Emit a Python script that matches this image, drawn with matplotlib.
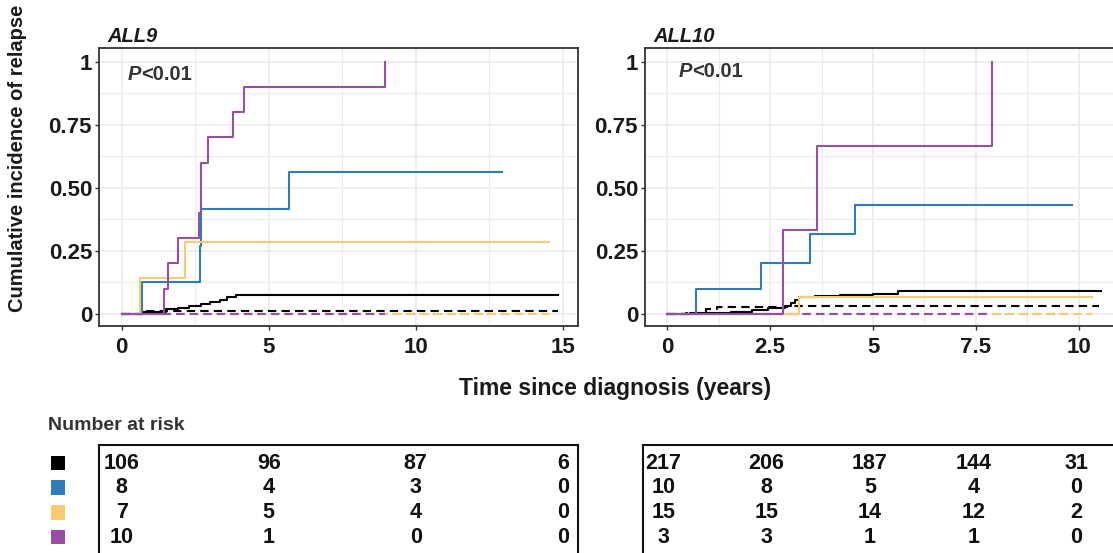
import matplotlib.pyplot as plt
from matplotlib.ticker import FixedLocator

plt.rcParams['font.family'] = ['Liberation Sans', 'DejaVu Sans']

W, H = 1113, 553

# colours per group: reference, blue, yellow, purple
group_colors = ['#000000', '#2E7DB9', '#F8CB73', '#984EA3']

# ---- ALL9 cumulative incidence (solid = relapse, dashed = competing event)
all9_t = [
    [0, 0.74, 1.5, 1.9, 2.3, 2.7, 3.0, 3.35, 3.6, 3.9, 14.85],
    [0, 0.69, 2.66, 2.71, 5.7, 12.95],
    [0, 0.63, 2.15, 14.54],
    [0, 1.43, 1.59, 1.91, 2.64, 2.71, 2.95, 3.8, 4.16, 8.94],
]
all9_v = [
    [0, 0.008, 0.02, 0.025, 0.03, 0.038, 0.046, 0.055, 0.066, 0.076, 0.076],
    [0, 0.125, 0.27, 0.417, 0.563, 0.563],
    [0, 0.143, 0.286, 0.286],
    [0, 0.1, 0.2, 0.3, 0.4, 0.6, 0.7, 0.8, 0.9, 1.0],
]
all9_dash_t = [[0, 0.74, 14.85], [0, 12.95], [0, 14.54], [0, 8.94]]
all9_dash_v = [[0, 0.0105, 0.0105], [0, 0], [0, 0], [0, 0]]

# ---- ALL10
all10_t = [
    [0, 0.55, 1.55, 2.05, 2.45, 2.85, 3.0, 3.1, 3.2, 3.6, 4.2, 5.0, 5.6, 10.54],
    [0, 0.71, 2.27, 3.46, 4.57, 9.83],
    [0, 3.19, 10.32],
    [0, 2.82, 3.63, 7.9],
]
all10_v = [
    [0, 0.004, 0.009, 0.014, 0.025, 0.032, 0.042, 0.055, 0.066, 0.07, 0.074, 0.078, 0.09, 0.09],
    [0, 0.1, 0.2, 0.315, 0.43, 0.43],
    [0, 0.067, 0.067],
    [0, 0.333, 0.667, 1.0],
]
all10_dash_t = [[0, 0.45, 0.95, 1.2, 2.9, 10.5], [0, 9.83], [0, 10.32], [0, 7.9]]
all10_dash_v = [[0, 0.005, 0.018, 0.028, 0.033, 0.033], [0, 0], [0, 0], [0, 0]]

# ---- numbers at risk
all9_risk_times = [0, 5, 10, 15]
all9_risk = [[106, 96, 87, 6], [8, 4, 3, 0], [7, 5, 4, 0], [10, 1, 0, 0]]
all10_risk_times = [0, 2.5, 5, 7.5, 10]
all10_risk = [[217, 206, 187, 144, 31], [10, 8, 5, 4, 0], [15, 15, 14, 12, 2], [3, 3, 1, 1, 0]]

fig = plt.figure(figsize=(W / 100, H / 100), dpi=100)

frame_col = '#333333'
txt_col = '#1a1a1a'


def px_axes(x0, x1, y0, y1):
    return fig.add_axes([x0 / W, 1 - y1 / H, (x1 - x0) / W, (y1 - y0) / H])


def style_panel(ax, xlim, xticks, xlabels, minor_x):
    ax.set_xlim(*xlim)
    ax.set_ylim(-0.048, 1.054)
    ax.set_xticks(xticks)
    ax.set_xticklabels(xlabels)
    ax.set_yticks([0, 0.25, 0.5, 0.75, 1])
    ax.set_yticklabels(['0', '0.25', '0.50', '0.75', '1'])
    ax.xaxis.set_minor_locator(FixedLocator(minor_x))
    ax.yaxis.set_minor_locator(FixedLocator([0.125, 0.375, 0.625, 0.875]))
    ax.grid(which='major', color='#EBEBEB', lw=1.2)
    ax.grid(which='minor', color='#EBEBEB', lw=0.8)
    ax.set_axisbelow(True)
    for s in ax.spines.values():
        s.set_color(frame_col)
        s.set_linewidth(1.3)
    ax.tick_params(which='major', length=3, width=1, color=frame_col,
                   labelsize=16, labelcolor=txt_col, pad=2)
    ax.tick_params(axis='x', pad=5)
    ax.tick_params(which='minor', length=0)
    for lab in ax.get_xticklabels() + ax.get_yticklabels():
        lab.set_fontweight('bold')


def draw_curves(ax, ts, vs, dts, dvs):
    for t, v, c in zip(dts, dvs, group_colors):
        ax.step(t, v, where='post', color=c, lw=1.5, ls=(0, (4, 2.5)))
    for t, v, c in zip(ts, vs, group_colors):
        ax.step(t, v, where='post', color=c, lw=1.5)


def p_label(ax, x, y):
    t = ax.text(x, y, 'P', transform=ax.transAxes, fontsize=14.5, fontweight='bold',
                fontstyle='italic', color='#333333', va='center', ha='left')
    ax.annotate('<0.01', xy=(1, 0), xycoords=t, fontsize=14.5, fontweight='bold',
                color='#333333', va='bottom', ha='left')


ax1 = px_axes(99, 578, 48, 326)
draw_curves(ax1, all9_t, all9_v, all9_dash_t, all9_dash_v)
style_panel(ax1, (-0.77, 15.52), [0, 5, 10, 15], ['0', '5', '10', '15'], [2.5, 7.5, 12.5])
ax1.text(0.018, 1.023, 'ALL9', transform=ax1.transAxes, fontsize=14.5, fontweight='bold',
         fontstyle='italic', color=txt_col, va='baseline', ha='left')
p_label(ax1, 0.06, 0.905)

ax2 = px_axes(645, 1134, 48, 326)
draw_curves(ax2, all10_t, all10_v, all10_dash_t, all10_dash_v)
style_panel(ax2, (-0.54, 11.34), [0, 2.5, 5, 7.5, 10], ['0', '2.5', '5', '7.5', '10'],
            [1.25, 3.75, 6.25, 8.75, 11.25])
ax2.text(0.018, 1.023, 'ALL10', transform=ax2.transAxes, fontsize=14.5, fontweight='bold',
         fontstyle='italic', color=txt_col, va='baseline', ha='left')
p_label(ax2, 0.069, 0.915)

fig.text(18 / W, 1 - 158 / H, 'Cumulative incidence of relapse', rotation=90,
         fontsize=14.5, fontweight='bold', color=txt_col, ha='center', va='center')
fig.text(615 / W, 1 - 388 / H, 'Time since diagnosis (years)',
         fontsize=16.5, fontweight='bold', color=txt_col, ha='center', va='center')

# ---- number at risk tables
fig.text(48 / W, 1 - 426 / H, 'Number at risk', fontsize=14, fontweight='bold',
         color='#333333', ha='left', va='center')

row_lim = (3.93, -0.73)


def risk_table(x0, x1, xlim, times, rows):
    tab = px_axes(x0, x1, 445, 560)
    tab.set_xlim(*xlim)
    tab.set_ylim(*row_lim)
    tab.set_xticks([])
    tab.set_yticks([])
    for s in tab.spines.values():
        s.set_color('#111111')
        s.set_linewidth(1.5)
    for i, row in enumerate(rows):
        for tx, n in zip(times, row):
            tab.text(tx, i, str(n), fontsize=15.5, fontweight='bold', color='#111111',
                     ha='center', va='center')
    return tab


risk_table(99, 578, (-0.77, 15.52), all9_risk_times, all9_risk)
risk_table(643, 1134, (-0.49, 11.39), all10_risk_times, all10_risk)

sq = px_axes(40, 80, 445, 560)
sq.set_xlim(0, 40)
sq.set_ylim(*row_lim)
sq.axis('off')
for i, c in enumerate(group_colors):
    sq.scatter([18], [i], marker='s', s=115, color=c, edgecolors='none')

fig.savefig('out.png', dpi=100)
